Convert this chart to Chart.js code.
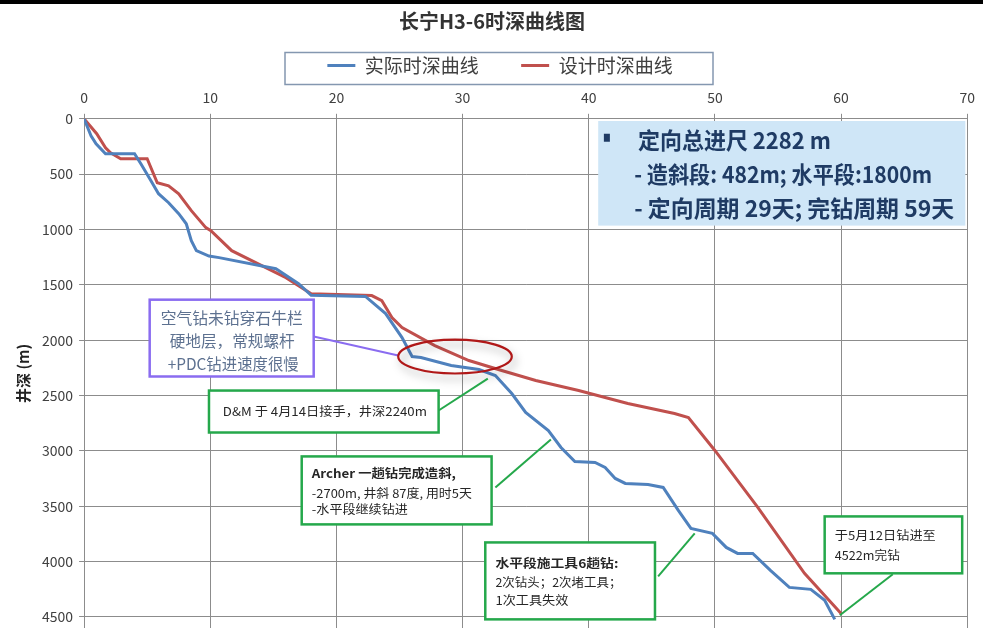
<!DOCTYPE html>
<html>
<head>
<meta charset="utf-8">
<script src="https://cdn.jsdelivr.net/npm/chart.js@4"></script>
<style>
  html, body { margin: 0; padding: 0; background: #fff; }
  #wrap { width: 983px; height: 628px; }
</style>
</head>
<body>
<div id="wrap"><canvas id="depth_chart" width="983" height="628"></canvas></div>
<script>
// days since spud vs. measured depth (m)
const actualDays  = [0, 0.55, 0.95, 1.7, 2.5, 4.0, 4.5, 5.3, 5.9, 6.7, 7.5, 8.1, 8.5, 8.9, 9.9, 10.7, 15.2, 17.0, 18.0, 22.3, 23.9, 25.2, 26.0, 26.7, 29.1, 31.3, 32.6, 33.9, 35.0, 36.8, 37.8, 38.9, 40.5, 41.3, 42.1, 42.9, 44.7, 45.9, 47.1, 48.1, 49.8, 50.9, 51.8, 53.0, 54.4, 55.9, 57.6, 58.7, 59.5];
const actualDepth = [0, 153, 226, 316, 316, 316, 406, 560, 677, 758, 857, 948, 1101, 1191, 1240, 1254, 1354, 1490, 1595, 1605, 1760, 1976, 2148, 2157, 2229, 2265, 2319, 2482, 2653, 2816, 2969, 3096, 3105, 3150, 3249, 3294, 3303, 3330, 3538, 3700, 3745, 3872, 3926, 3926, 4079, 4233, 4251, 4350, 4522];

const designDays  = [0, 1.0, 1.7, 2.1, 2.9, 4.1, 5.0, 5.8, 6.7, 7.5, 8.5, 9.65, 10.05, 11.7, 14.4, 16.0, 18.0, 22.8, 23.6, 24.4, 25.2, 27.8, 30.5, 33.1, 35.8, 39.2, 43.1, 46.8, 47.9, 50.0, 53.4, 57.1, 60.0];
const designDepth = [0, 135, 262, 307, 361, 361, 361, 578, 605, 677, 830, 983, 1011, 1191, 1345, 1435, 1580, 1597, 1643, 1796, 1886, 2049, 2184, 2274, 2364, 2455, 2572, 2662, 2698, 2996, 3511, 4106, 4470];

const dayTicks   = [0, 10, 20, 30, 40, 50, 60, 70];
const depthTicks = [0, 500, 1000, 1500, 2000, 2500, 3000, 3500, 4000, 4500];

const seriesNames = ["实际时深曲线", "设计时深曲线"];

const summaryLines = ["定向总进尺 2282 m", "- 造斜段: 482m; 水平段:1800m", "- 定向周期 29天; 完钻周期 59天"];
const airNote   = ["空气钻未钻穿石牛栏", "硬地层，常规螺杆", "+PDC钻进速度很慢"];
const handNote  = ["D&M 于 4月14日接手，井深2240m"];
const archNote  = ["Archer 一趟钻完成造斜,", "-2700m, 井斜 87度, 用时5天", "-水平段继续钻进"];
const toolNote  = ["水平段施工具6趟钻:", "2次钻头；2次堵工具；", "1次工具失效"];
const endNote   = ["于5月12日钻进至", "4522m完钻"];

const toPoints = (xs, ys) => xs.map((x, i) => ({ x: x, y: ys[i] }));

const CJK = '"Noto Sans CJK SC", "Noto Sans", sans-serif';
Chart.defaults.font.family = CJK;
Chart.defaults.color = "#404040";

// squeeze / stretch text to a target width
function fitText(ctx, text, x, y, width) {
  const w = ctx.measureText(text).width;
  ctx.save();
  ctx.translate(x, y);
  ctx.scale(width / w, 1);
  ctx.fillText(text, 0, 0);
  ctx.restore();
}

function box(ctx, l, t, r, b, stroke, fill, lw) {
  ctx.save();
  ctx.fillStyle = fill;
  ctx.fillRect(l, t, r - l, b - t);
  if (stroke) {
    ctx.strokeStyle = stroke;
    ctx.lineWidth = lw;
    ctx.strokeRect(l, t, r - l, b - t);
  }
  ctx.restore();
}

function line(ctx, x1, y1, x2, y2, color, lw) {
  ctx.save();
  ctx.strokeStyle = color;
  ctx.lineWidth = lw;
  ctx.beginPath();
  ctx.moveTo(x1, y1);
  ctx.lineTo(x2, y2);
  ctx.stroke();
  ctx.restore();
}

const frame = {
  id: "frame",
  afterLayout(chart) {
    // legend sits a little right of centre and a little lower
    const lg = chart.legend;
    lg.left += 8;
    lg.right += 8;
    lg.top += 4;
    lg.bottom += 4;
  },
  beforeDraw(chart) {
    const ctx = chart.ctx;
    ctx.save();
    ctx.fillStyle = "#fff";
    ctx.fillRect(0, 0, chart.width, chart.height);
    ctx.fillStyle = "#000";
    ctx.fillRect(0, 0, chart.width, 4);
    ctx.restore();
  },
  afterDraw(chart) {
    // border round the legend
    const lg = chart.legend;
    const cx = (lg.left + lg.right) / 2 - 1;
    const cy = lg.top + lg.height / 2;
    const ctx = chart.ctx;
    ctx.save();
    ctx.strokeStyle = "#8497b0";
    ctx.lineWidth = 1.5;
    ctx.strokeRect(cx - 214, cy - 16, 428, 32);
    ctx.restore();
  }
};

const notes = {
  id: "notes",
  afterDatasetsDraw(chart) {
    const { ctx, scales: { x, y } } = chart;
    const px = d => x.getPixelForValue(d);
    const py = v => y.getPixelForValue(v);
    ctx.save();
    ctx.textBaseline = "middle";
    ctx.textAlign = "left";

    // summary box, top right
    box(ctx, px(40.75), py(20), px(69.85), py(965), null, "#cfe6f7", 0);
    ctx.fillStyle = "#1f3b64";
    ctx.fillRect(px(41.2), py(135), 6, 8);
    ctx.font = 'bold 23px "Liberation Sans Narrow", ' + CJK;
    fitText(ctx, summaryLines[0], px(43.9), py(195), 193);
    fitText(ctx, summaryLines[1], px(43.6), py(497), 298);
    fitText(ctx, summaryLines[2], px(43.6), py(812), 320);

    // air drilling note (purple)
    const pl = px(5.2), pr = px(18.2), pt = py(1634), pb = py(2328);
    line(ctx, pr, py(1967), px(24.9), py(2139), "#8a6cf0", 2);
    box(ctx, pl, pt, pr, pb, "#8a6cf0", "#fff", 2.5);
    ctx.fillStyle = "#5d7190";
    ctx.font = "16px " + CJK;
    const cx = (pl + pr) / 2;
    fitText(ctx, airNote[0], cx - 71, py(1800), 142);
    fitText(ctx, airNote[1], cx - 62, py(2010), 125);
    fitText(ctx, airNote[2], cx - 64, py(2217), 131);

    // ellipse around the slow section
    ctx.save();
    ctx.shadowColor = "rgba(0,0,0,0.35)";
    ctx.shadowBlur = 8;
    ctx.shadowOffsetX = 3;
    ctx.shadowOffsetY = 5;
    ctx.strokeStyle = "#b01818";
    ctx.lineWidth = 2.2;
    ctx.beginPath();
    ctx.ellipse(px(29.4), py(2148), px(29.4) - px(24.9), py(2148) - py(1995), 0, 0, Math.PI * 2);
    ctx.stroke();
    ctx.restore();

    const green = "#25a84b";

    // D&M takeover
    line(ctx, px(28.1), py(2635), px(32.0), py(2347), green, 2);
    box(ctx, px(9.9), py(2455), px(28.1), py(2834), green, "#fff", 2.5);
    ctx.fillStyle = "#262626";
    ctx.font = "12px " + CJK;
    fitText(ctx, handNote[0], px(11.0), py(2640), 204);

    // Archer run
    line(ctx, px(32.6), py(3330), px(37.0), py(2897), green, 2);
    box(ctx, px(17.25), py(3050), px(32.3), py(3664), green, "#fff", 2.5);
    ctx.fillStyle = "#262626";
    ctx.font = "bold 12px " + CJK;
    fitText(ctx, archNote[0], px(18.05), py(3200), 144);
    ctx.font = "12px " + CJK;
    fitText(ctx, archNote[1], px(18.05), py(3385), 160);
    fitText(ctx, archNote[2], px(18.05), py(3530), 96);

    // horizontal section tools
    line(ctx, px(45.5), py(4133), px(48.4), py(3745), green, 2);
    box(ctx, px(31.8), py(3827), px(45.25), py(4522), green, "#fff", 2.5);
    ctx.fillStyle = "#262626";
    ctx.font = "bold 12px " + CJK;
    fitText(ctx, toolNote[0], px(32.6), py(4016), 123);
    ctx.font = "12px " + CJK;
    fitText(ctx, toolNote[1], px(32.6), py(4188), 126);
    fitText(ctx, toolNote[2], px(32.6), py(4350), 73);

    // completion
    line(ctx, px(64.1), py(4115), px(59.9), py(4485), green, 2);
    box(ctx, px(58.7), py(3592), px(69.6), py(4106), green, "#fff", 2.5);
    ctx.fillStyle = "#262626";
    ctx.font = "12px " + CJK;
    fitText(ctx, endNote[0], px(59.5), py(3764), 101);
    fitText(ctx, endNote[1], px(59.5), py(3945), 65);

    ctx.restore();
  }
};

new Chart("depth_chart", {
  type: "line",
  data: {
    datasets: [
      {
        label: seriesNames[0],
        data: toPoints(actualDays, actualDepth),
        borderColor: "#4f81bd",
        backgroundColor: "#4f81bd",
        borderWidth: 3,
        pointRadius: 0,
        tension: 0
      },
      {
        label: seriesNames[1],
        data: toPoints(designDays, designDepth),
        borderColor: "#c0504d",
        backgroundColor: "#c0504d",
        borderWidth: 3,
        pointRadius: 0,
        tension: 0
      }
    ]
  },
  options: {
    responsive: false,
    animation: false,
    devicePixelRatio: 1,
    layout: { padding: { left: 14, right: 13, top: 9, bottom: 0 } },
    plugins: {
      title: {
        display: true,
        text: "长宁H3-6时深曲线图",
        color: "#333",
        font: { size: 20, weight: "bold" },
        padding: { top: 0, bottom: 15 }
      },
      legend: {
        display: true,
        labels: {
          usePointStyle: true,
          pointStyle: "line",
          pointStyleWidth: 28,
          boxHeight: 18,
          font: { size: 19 },
          color: "#404040",
          padding: 4,
          sort: (a, b) => a.datasetIndex - b.datasetIndex,
          generateLabels: chart => {
            const items = Chart.defaults.plugins.legend.labels.generateLabels(chart);
            // widen the gap after the first entry
            items[0].text = items[0].text + "         ";
            return items;
          }
        }
      },
      tooltip: { enabled: false }
    },
    scales: {
      x: {
        type: "linear",
        position: "top",
        min: 0,
        max: 70,
        afterBuildTicks: s => { s.ticks = dayTicks.map(v => ({ value: v })); },
        ticks: { font: { size: 14 }, color: "#404040", padding: 8, callback: v => String(v) },
        grid: { color: "#8c8c8c", tickLength: 5 },
        border: { color: "#8c8c8c" }
      },
      y: {
        type: "linear",
        reverse: true,
        min: 0,
        max: 4600,
        afterBuildTicks: s => { s.ticks = depthTicks.map(v => ({ value: v })); },
        afterFit: s => { s.paddingBottom = 0; },
        ticks: { font: { size: 14 }, color: "#404040", padding: 6, callback: v => String(v) },
        grid: { color: "#8c8c8c", tickLength: 5 },
        border: { color: "#8c8c8c" },
        title: {
          display: true,
          text: "井深 (m)",
          color: "#222",
          font: { size: 15, weight: "bold" },
          padding: { top: 0, bottom: 4 }
        }
      }
    }
  },
  plugins: [frame, notes]
});
</script>
</body>
</html>
